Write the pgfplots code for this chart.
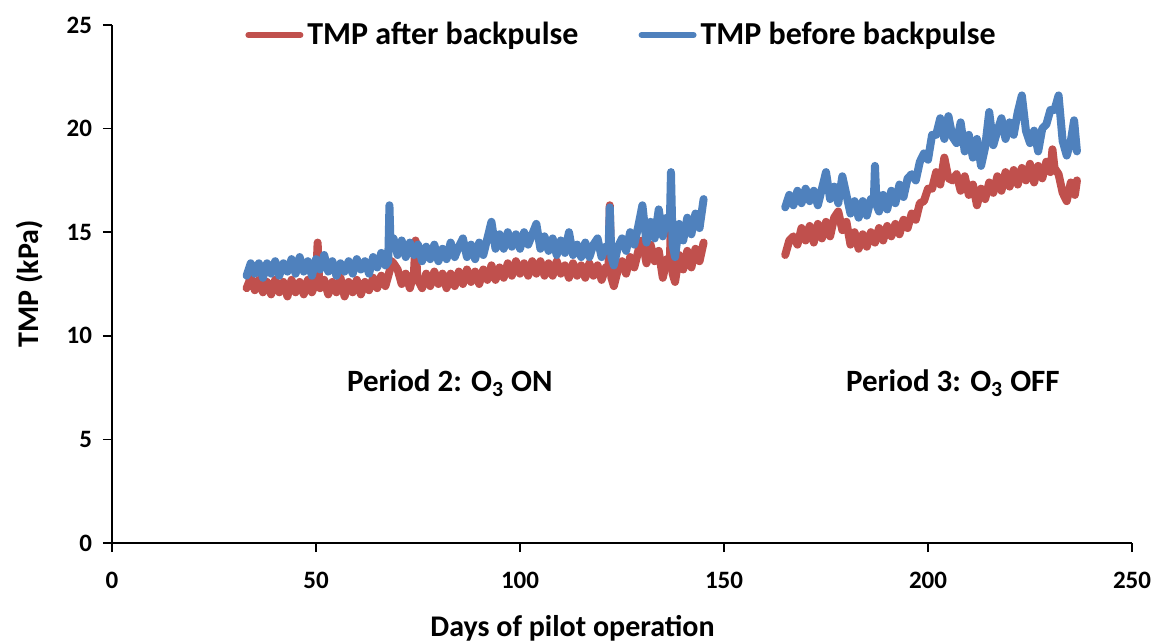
\documentclass[border=0pt]{standalone}
\usepackage{fontspec}
\setmainfont{Carlito}
\usepackage{pgfplots}
\pgfplotsset{compat=1.18}
\usepackage{pgfplotstable}

\definecolor{tmpred}{RGB}{192,80,77}
\definecolor{tmpblue}{RGB}{79,129,189}

% Period 2 (ozone on), TMP before backpulse
\pgfplotstableread{
day tmp
33 12.9
34 13.5
35 13.0
36 13.5
37 12.8
38 13.5
39 13.0
40 13.6
41 12.9
42 13.5
43 13.1
44 13.7
45 13.0
46 13.8
47 13.1
48 13.6
49 12.9
50 13.7
51 13.2
52 13.9
53 13.1
54 13.6
55 12.9
56 13.5
57 13.1
58 13.6
59 13.0
60 13.7
61 13.2
62 13.6
63 13.0
64 13.8
65 13.3
66 14.0
67 13.4
67.7 13.6
68 16.3
68.3 14.2
69 14.7
70 13.9
71 14.6
72 13.8
73 14.5
74 13.9
75 14.4
76 13.6
77 14.3
78 13.7
79 14.4
80 13.6
81 14.2
82 13.7
83 14.5
84 13.8
85 14.3
86 14.7
87 13.8
88 14.4
89 13.7
90 14.5
91 13.9
92 14.7
93 15.5
94 14.2
95 14.9
96 14.2
97 15.0
98 14.3
99 14.9
100 14.2
101 15.0
102 14.4
103 14.9
104 15.4
105 14.2
106 14.8
107 14.1
108 14.7
109 13.9
110 14.6
111 14.0
112 15.0
113 13.9
114 14.4
115 13.8
116 14.5
117 13.8
118 14.4
119 14.7
120 13.8
121 14.3
121.7 14.1
122 16.2
122.4 13.8
123 13.4
124 14.3
125 14.7
126 14.1
127 15.0
128 14.4
129 15.3
130 16.3
131 14.5
132 15.5
133 14.7
134 16.1
135 14.8
136 15.7
136.7 15.2
137 17.9
137.4 14.4
138 13.8
139 15.4
140 14.6
141 15.7
142 14.9
143 15.9
144 15.2
145 16.6
}\beforeA

% Period 2 (ozone on), TMP after backpulse
\pgfplotstableread{
day tmp
33 12.3
34 12.8
35 12.2
36 12.7
37 12.1
38 12.6
39 12.0
40 12.7
41 12.1
42 12.6
43 11.9
44 12.7
45 12.1
46 12.6
47 12.0
48 12.7
49 12.1
50 12.6
50.4 14.5
50.8 12.4
51 12.3
52 12.7
53 12.0
54 12.6
55 12.1
56 12.8
57 11.9
58 12.6
59 12.1
60 12.7
61 12.0
62 12.6
63 12.2
64 12.8
65 12.3
66 12.9
67 12.4
68 13.1
68.5 13.6
69 13.5
70 13.2
71 12.5
72 13.0
73 12.3
74 13.0
74.4 14.6
74.8 12.9
75 12.7
76 12.3
77 13.0
78 12.4
79 13.1
80 12.5
81 13.0
82 12.3
83 13.0
84 12.4
85 13.1
86 12.5
87 13.2
88 12.6
89 13.1
90 12.5
91 13.2
92 12.7
93 13.4
94 12.7
95 13.3
96 12.8
97 13.5
98 12.9
99 13.6
100 13.0
101 13.5
102 12.9
103 13.6
104 13.0
105 13.6
106 12.9
107 13.5
108 12.9
109 13.6
110 13.0
111 13.4
112 12.8
113 13.5
114 12.9
115 13.4
116 12.8
117 13.5
118 12.9
119 13.4
120 12.7
121 13.3
121.7 13.1
122 16.3
122.4 12.8
123 12.4
124 13.2
125 13.6
126 13.0
127 13.8
128 13.3
129 14.1
130 14.6
131 13.5
132 14.4
133 13.6
134 14.1
135 12.8
136 13.7
136.7 13.4
137 15.5
137.4 13.0
138 12.6
139 13.9
140 13.2
141 14.1
142 13.3
143 14.2
144 13.6
145 14.5
}\afterA

% Period 3 (ozone off), TMP before backpulse
\pgfplotstableread{
day tmp
165 16.2
166 16.8
167 16.3
168 17.0
169 16.4
170 17.1
171 16.5
172 17.0
173 16.3
174 17.1
175 17.9
176 16.6
177 17.2
178 16.4
179 17.7
180 16.8
181 15.9
182 16.5
183 15.7
184 16.5
185 15.8
186 16.6
186.7 16.4
187 18.2
187.4 16.3
188 16.0
189 16.8
190 16.1
191 17.0
192 16.4
193 17.3
194 16.7
195 17.6
196 17.8
197 17.5
198 18.4
199 18.8
200 18.5
201 19.7
202 19.7
203 20.5
204 19.5
205 20.6
206 19.6
207 19.3
208 20.3
209 18.9
210 19.7
211 18.6
212 19.5
213 18.2
214 19.1
215 20.8
216 19.2
217 19.9
218 20.5
219 19.5
220 20.3
221 19.7
222 20.8
223 21.6
224 19.9
225 19.3
226 19.9
227 18.9
228 20.0
229 20.2
230 20.9
231 20.9
232 21.6
233 19.4
234 18.7
235 19.4
235.8 20.4
236.5 18.9
}\beforeB

% Period 3 (ozone off), TMP after backpulse
\pgfplotstableread{
day tmp
165 13.9
166 14.6
167 14.8
168 14.4
169 15.2
170 14.6
171 15.3
172 14.5
173 15.4
174 14.7
175 15.5
176 14.8
177 15.7
178 16.0
179 15.1
180 15.5
181 14.4
182 15.0
183 14.2
184 14.9
185 14.3
186 15.0
187 14.5
188 15.2
189 14.6
190 15.3
191 14.8
192 15.4
193 14.9
194 15.6
195 15.2
196 15.9
197 15.6
198 16.4
199 16.5
200 17.1
201 17.1
202 17.9
203 17.3
204 18.6
205 17.6
206 17.5
207 17.8
208 17.0
209 17.7
210 16.8
211 17.3
212 16.3
213 17.1
214 16.6
215 17.4
216 16.9
217 17.7
218 17.0
219 17.9
220 17.2
221 18.0
222 17.3
223 18.1
224 17.5
225 18.3
226 17.4
227 18.2
228 17.6
229 18.4
230 17.9
230.5 19.0
231 18.1
232 17.8
233 16.9
234 16.5
235 17.4
236 16.8
236.5 17.5
}\afterB

\begin{document}
\begin{tikzpicture}[font=\bfseries]
\begin{axis}[
  scale only axis,
  width=510pt, height=259pt,
  xmin=0, xmax=250, ymin=0, ymax=25,
  enlargelimits=false,
  axis lines=left,
  axis line style={-, black, line width=0.8pt},
  xtick={0,50,...,250},
  ytick={0,5,...,25},
  tick align=outside,
  major tick length=4.5pt,
  tick style={black, line width=0.8pt},
  /pgf/number format/assume math mode=true,
  tick label style={font=\bfseries\fontsize{12.5}{15}\selectfont},
  xticklabel style={yshift=-6.5pt},
  yticklabel style={xshift=-2pt},
  every axis x label/.style={at={(axis description cs:0.4515,-0.164)}, anchor=center},
  every axis y label/.style={at={(axis description cs:-0.0804,0.5)}, anchor=center, rotate=90},
  label style={font=\bfseries\fontsize{15}{18}\selectfont},
  xlabel={Days of pilot operation},
  ylabel={TMP (kPa)},
  legend columns=2,
  legend style={at={(axis description cs:0.1304,0.9807)}, anchor=west,
    draw=none, fill=none, inner sep=0pt,
    font=\bfseries\fontsize{16}{19}\selectfont,
    /tikz/every even column/.append style={column sep=28pt}},
  legend image code/.code={\draw[#1, line width=3pt, line cap=round] (0pt,0pt) -- (26pt,0pt);},
  every axis plot/.append style={line width=4pt, line join=round, line cap=round},
  clip=false,
]
\addplot[tmpred] table[x=day, y=tmp] {\afterA};
\addlegendentry{TMP after backpulse}
\addplot[tmpblue] table[x=day, y=tmp] {\beforeA};
\addlegendentry{TMP before backpulse}
\addplot[tmpred, forget plot] table[x=day, y=tmp] {\afterB};
\addplot[tmpblue, forget plot] table[x=day, y=tmp] {\beforeB};

\node[anchor=base, font=\bfseries\fontsize{15.5}{18}\selectfont] at (axis cs:82.8,7.29) {Period 2: O\textsubscript{3} ON};
\node[anchor=base, font=\bfseries\fontsize{15.5}{18}\selectfont] at (axis cs:206.1,7.29) {Period 3: O\textsubscript{3} OFF};
\end{axis}
\pgfresetboundingbox
\path[use as bounding box] (current axis.south west) ++(-56pt,-50pt) rectangle ++(579.5pt,321.5pt);
\end{tikzpicture}
\end{document}
